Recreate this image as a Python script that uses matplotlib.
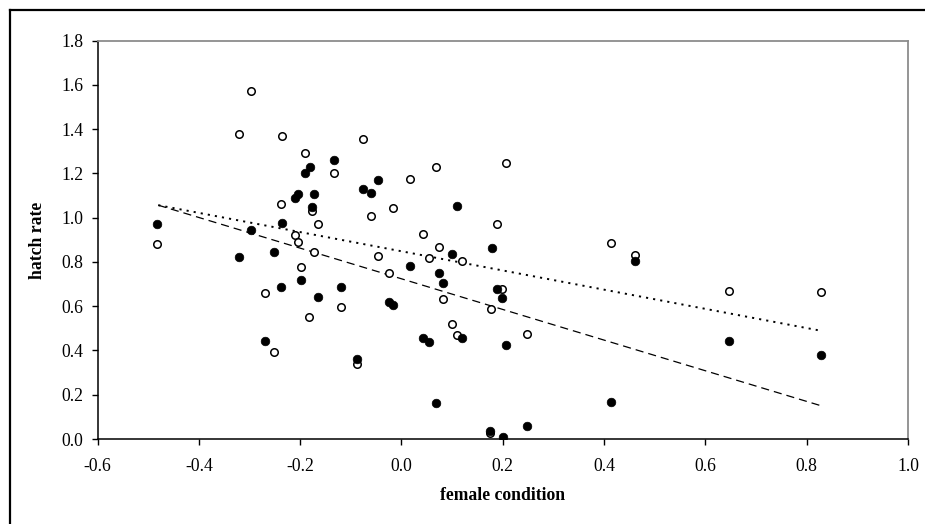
import matplotlib
matplotlib.use("Agg")
import matplotlib.pyplot as plt
from matplotlib.lines import Line2D
import numpy as np

# Filled circles
filled_x = [-0.482, -0.321, -0.297, -0.269, -0.252, -0.238, -0.235, -0.210, -0.204,
            -0.198, -0.190, -0.181, -0.176, -0.173, -0.164, -0.134, -0.119, -0.088,
            -0.075, -0.061, -0.047, -0.025, -0.016, 0.017, 0.043, 0.054, 0.068,
            0.074, 0.082, 0.099, 0.110, 0.119, 0.178, 0.175, 0.189, 0.198, 0.200,
            0.206, 0.248, 0.414, 0.462, 0.647, 0.829]
filled_y = [0.971, 0.822, 0.944, 0.443, 0.843, 0.688, 0.977, 1.087, 1.106,
            0.719, 1.202, 1.228, 1.049, 1.106, 0.643, 1.260, 0.688, 0.360,
            1.130, 1.112, 1.169, 0.617, 0.604, 0.783, 0.456, 0.437, 0.161,
            0.751, 0.706, 0.835, 1.053, 0.456, 0.861, 0.038, 0.676, 0.635, 0.008,
            0.424, 0.057, 0.167, 0.805, 0.442, 0.378]

# Open circles
open_x = [-0.482, -0.321, -0.297, -0.269, -0.252, -0.238, -0.235, -0.210, -0.204,
          -0.199, -0.190, -0.182, -0.176, -0.173, -0.164, -0.134, -0.119, -0.088,
          -0.075, -0.060, -0.047, -0.024, -0.016, 0.017, 0.043, 0.054, 0.068,
          0.074, 0.082, 0.099, 0.110, 0.119, 0.177, 0.175, 0.189, 0.198, 0.206,
          0.248, 0.414, 0.462, 0.647, 0.829]
open_y = [0.880, 1.376, 1.574, 0.661, 0.392, 1.061, 1.368, 0.920, 0.888,
          0.777, 1.291, 0.552, 1.028, 0.843, 0.971, 1.202, 0.597, 0.337,
          1.356, 1.008, 0.828, 0.751, 1.042, 1.175, 0.926, 0.816, 1.228,
          0.867, 0.631, 0.519, 0.470, 0.802, 0.586, 0.026, 0.971, 0.676, 1.246,
          0.475, 0.886, 0.829, 0.668, 0.662]

# Linear trends (slope, intercept) over the range of the data
trend_filled = (-0.6924, 0.7237)
trend_open = (-0.4336, 0.8480)
trend_range = (-0.48, 0.83)

x_ticks = [-0.6, -0.4, -0.2, 0.0, 0.2, 0.4, 0.6, 0.8, 1.0]
y_ticks = [0.0, 0.2, 0.4, 0.6, 0.8, 1.0, 1.2, 1.4, 1.6, 1.8]

W, H = 925, 524
fig = plt.figure(figsize=(W / 100, H / 100), dpi=100)
fig.patch.set_facecolor("white")
ax = fig.add_axes([97.5 / W, 1 - 439 / H, (908 - 97.5) / W, (439 - 40.5) / H])

ax.plot(open_x, open_y, linestyle="none", marker="o", markersize=5.4,
        markerfacecolor="white", markeredgecolor="black", markeredgewidth=1.1,
        zorder=3)
ax.plot(filled_x, filled_y, linestyle="none", marker="o", markersize=6.2,
        markerfacecolor="black", markeredgecolor="black", markeredgewidth=0.5,
        zorder=4)

tx = np.array(trend_range)
ax.plot(tx, trend_filled[0] * tx + trend_filled[1], color="black", lw=0.9,
        linestyle=(0, (6.5, 4.0)), dash_capstyle="butt", zorder=2)
ax.plot(tx, trend_open[0] * tx + trend_open[1], color="black", lw=1.4,
        linestyle=(0, (1.1, 2.6)), dash_capstyle="butt", zorder=2)

ax.set_xlim(-0.6, 1.0)
ax.set_ylim(0.0, 1.8)
ax.set_xticks(x_ticks)
ax.set_yticks(y_ticks)
ax.set_xticklabels([f"{v:.1f}" for v in x_ticks])
ax.set_yticklabels([f"{v:.1f}" for v in y_ticks])

serif = ["Liberation Serif", "DejaVu Serif"]
for lab in ax.get_xticklabels() + ax.get_yticklabels():
    lab.set_fontfamily(serif)
    lab.set_fontsize(12.7)

ax.tick_params(axis="x", direction="out", length=4.5, width=1.0, pad=9,
               color="black")
ax.tick_params(axis="y", direction="out", length=4.5, width=1.0, pad=5.5,
               color="black")

for side in ("left", "bottom"):
    ax.spines[side].set_color("black")
    ax.spines[side].set_linewidth(1.1)
for side in ("top", "right"):
    ax.spines[side].set_color("#8c8c8c")
    ax.spines[side].set_linewidth(1.3)

fig.text(503 / W, 1 - 495 / H, "female condition", ha="center", va="center",
         fontfamily=serif, fontweight="bold", fontsize=12.7)
fig.text(38 / W, 1 - 240 / H, "hatch rate", ha="center", va="center",
         rotation=90, fontfamily=serif, fontweight="bold", fontsize=12.7)

# Outer frame: top and left edges
fig.add_artist(Line2D([10 / W, 1.0], [1 - 9.5 / H, 1 - 9.5 / H],
                      transform=fig.transFigure, color="black", lw=1.6))
fig.add_artist(Line2D([10 / W, 10 / W], [0.0, 1 - 9.5 / H],
                      transform=fig.transFigure, color="black", lw=1.6))

fig.savefig("out.png", dpi=100, facecolor="white")
